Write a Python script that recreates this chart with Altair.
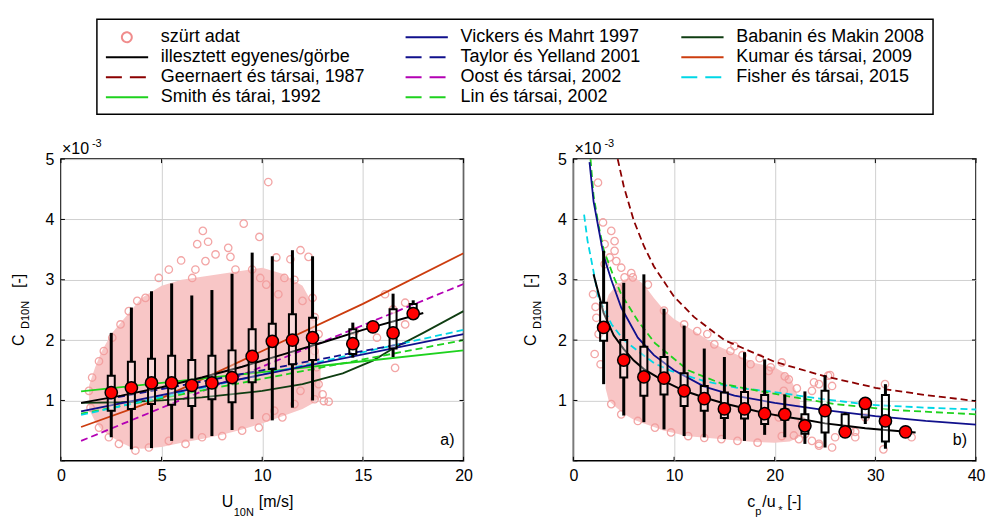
import altair as alt
import pandas as pd

FONT = "Liberation Sans"

# ---------------- panel a) : U10N ----------------
a_box_u   = [2.5, 3.5, 4.5, 5.5, 6.5, 7.5, 8.5, 9.5, 10.5, 11.5, 12.5, 14.5, 16.5, 17.5]
a_box_min = [0.39, 0.19, 0.21, 0.33, 0.37, 0.41, 0.51, 0.69, 0.67, 0.88, 1.00, 1.71, 1.72, 2.40]
a_box_q1  = [0.83, 0.86, 0.94, 0.93, 0.91, 1.02, 0.97, 1.30, 1.52, 1.60, 1.67, 1.77, 1.86, 2.46]
a_box_q3  = [1.41, 1.64, 1.69, 1.74, 1.67, 1.74, 1.83, 2.18, 2.27, 2.43, 2.37, 2.18, 2.51, 2.60]
a_box_max = [2.12, 2.54, 2.81, 2.94, 2.74, 2.83, 3.10, 3.45, 3.39, 3.49, 3.39, 2.29, 2.77, 2.66]

a_med_u = [2.5, 3.5, 4.5, 5.5, 6.5, 7.5, 8.5, 9.5, 10.5, 11.5, 12.5, 14.5, 15.5, 16.5, 17.5]
a_med_c = [1.13, 1.21, 1.29, 1.29, 1.25, 1.29, 1.38, 1.73, 1.98, 2.00, 2.04, 1.94, 2.22, 2.12, 2.44]

# dense part of the filtered data cloud (lower / upper edge)
a_cloud_u  = [1.4, 1.7, 2.0, 2.5, 3.0, 3.5, 4.0, 5.0, 6.0, 7.0, 8.0, 9.0, 10.0, 11.0, 12.0, 12.5, 12.9]
a_cloud_lo = [0.85, 0.65, 0.52, 0.40, 0.30, 0.22, 0.20, 0.23, 0.30, 0.36, 0.43, 0.52, 0.62, 0.74, 0.86, 0.95, 1.05]
a_cloud_hi = [1.25, 1.55, 1.80, 2.10, 2.30, 2.50, 2.70, 2.90, 3.00, 3.05, 3.10, 3.15, 3.20, 3.10, 2.90, 2.60, 1.60]

# individual filtered data points (edge / outliers)
a_pts_u = [9.08, 7.05, 6.77, 7.31, 5.97, 6.68, 7.68, 8.31, 8.42, 9.86, 10.3, 5.36, 4.86, 4.2, 6.52, 7.18,
           8.67, 9.5, 1.89, 1.55, 2.13, 2.55, 2.96, 3.37, 3.79, 1.39, 1.47, 1.89, 2.38, 2.88, 3.7, 4.37,
           5.36, 6.19, 7.01, 8.01, 9.0, 9.83, 11.9, 12.3, 11.4, 10.7, 9.9, 10.2, 11.1, 11.6, 10.8, 12.0,
           12.5, 16.1, 17.1, 16.5, 14.6, 16.6, 13.06, 12.6, 11.9, 10.6, 10.2, 11.0, 11.6, 12.8, 12.7, 12.6,
           12.8, 12.6, 17.1, 15.7, 13.3, 13.0]
a_pts_c = [3.93, 3.81, 3.59, 3.63, 3.32, 3.17, 3.42, 3.53, 3.38, 3.71, 4.62, 3.17, 3.03, 2.70, 3.03, 3.31,
           3.17, 3.17, 1.65, 1.38, 1.82, 2.04, 2.26, 2.48, 2.65, 1.16, 0.88, 0.55, 0.39, 0.28, 0.17, 0.22,
           0.33, 0.28, 0.39, 0.41, 0.50, 0.55, 3.49, 3.38, 3.34, 3.37, 3.03, 2.92, 3.03, 3.00, 2.76, 2.65,
           2.70, 2.76, 2.62, 2.51, 2.15, 1.54, 0.99, 1.02, 1.16, 0.83, 0.72, 0.72, 0.94, 1.27, 1.55, 1.82,
           2.10, 2.38, 2.26, 2.04, 0.98, 1.10]

a_fit_u = [1, 3, 5, 7, 9, 11, 13, 15, 18]
a_fit_c = [0.96, 1.08, 1.22, 1.38, 1.56, 1.76, 1.96, 2.17, 2.45]

a_smith_u = [1, 5, 10, 15, 20]
a_smith_c = [1.15, 1.29, 1.47, 1.65, 1.83]
a_vick_u = [1, 20]
a_vick_c = [0.82, 2.10]
a_taylor_u = [2.3, 5, 10, 15, 17.3]
a_taylor_c = [1.02, 1.19, 1.50, 1.82, 1.96]
a_oost_u = [1, 20]
a_oost_c = [0.33, 2.93]
a_lin_u = [1, 20]
a_lin_c = [0.78, 2.00]
a_fisher_u = [1, 20]
a_fisher_c = [0.76, 2.17]
a_bab_u = [1, 3, 5, 7, 9, 10, 12, 14, 15.5, 16.5, 18, 20]
a_bab_c = [0.96, 0.97, 1.00, 1.05, 1.12, 1.16, 1.27, 1.45, 1.66, 1.86, 2.12, 2.48]
a_kumar_u = [1, 5, 10, 15, 20]
a_kumar_c = [0.56, 1.04, 1.82, 2.60, 3.44]

# ---------------- panel b) : cp/u* ----------------
b_box_c   = [3, 5, 7, 9, 11, 13, 15, 17, 19, 21, 23, 25, 27, 29, 31]
b_box_min = [1.27, 0.75, 0.64, 0.52, 0.41, 0.39, 0.36, 0.33, 0.43, 0.39, 0.28, 0.22, 0.45, 0.61, 0.20]
b_box_q1  = [1.99, 1.38, 1.08, 1.10, 0.91, 0.83, 0.71, 0.70, 0.61, 0.68, 0.45, 0.47, 0.48, 0.72, 0.32]
b_box_q3  = [2.62, 2.00, 1.89, 1.72, 1.45, 1.24, 1.13, 1.14, 1.09, 0.85, 0.77, 1.16, 0.77, 0.90, 1.09]
b_box_max = [3.48, 2.95, 3.09, 2.52, 2.24, 1.86, 1.72, 1.80, 1.68, 1.10, 1.15, 1.42, 0.80, 0.98, 1.27]

b_med_c = [3, 5, 7, 9, 11, 13, 15, 17, 19, 21, 23, 25, 27, 29, 31, 33]
b_med_v = [2.21, 1.67, 1.39, 1.37, 1.16, 1.03, 0.86, 0.86, 0.78, 0.77, 0.58, 0.83, 0.48, 0.95, 0.66, 0.48]

b_cloud_c  = [3.2, 3.5, 4.0, 5.0, 6.0, 7.0, 8.0, 9.0, 10.0, 11.0, 12.0, 14.0, 16.0, 18.0, 20.0, 21.5, 22.5]
b_cloud_lo = [1.20, 1.00, 0.92, 0.78, 0.68, 0.62, 0.56, 0.50, 0.46, 0.42, 0.40, 0.37, 0.34, 0.31, 0.30, 0.32, 0.40]
b_cloud_hi = [2.60, 2.75, 2.85, 3.00, 3.05, 2.92, 2.70, 2.50, 2.35, 2.25, 2.15, 1.93, 1.78, 1.62, 1.55, 1.40, 1.00]

b_pts_c = [2.44, 2.94, 3.76, 4.09, 3.1, 3.6, 4.26, 4.75, 5.08, 1.95, 2.28, 2.11, 5.9, 3.1, 4.09, 4.42,
           2.5, 2.2, 2.7, 20.7, 19.4, 21.4, 20.9, 25.5, 25.7, 24.4, 30.96, 22.7, 23.7, 24.4, 26.0, 27.5,
           28.0, 29.0, 30.8, 33.6, 20.4, 21.9, 23.0, 28.0, 23.7, 23.9, 25.3, 5.75, 7.4, 9.0, 11.0, 12.3,
           14.0, 15.6, 17.6, 19.6, 13.3, 16.8, 18.5, 21.0, 22.2, 16.0, 3.76, 4.75, 6.4, 8.1, 9.7, 11.4,
           13.0, 14.7, 16.3, 18.3, 20.7, 22.4, 24.4, 25.7]
b_pts_v = [4.61, 3.95, 3.81, 3.64, 3.59, 3.37, 3.31, 3.20, 3.04, 2.76, 2.37, 1.77, 3.04, 3.26, 3.48, 2.87,
           2.10, 2.55, 1.60, 1.63, 1.49, 1.35, 1.16, 1.42, 1.24, 1.27, 1.27, 0.66, 0.33, 0.28, 0.39, 0.50,
           0.39, 0.72, 0.19, 0.39, 0.72, 0.42, 0.44, 0.48, 1.16, 1.30, 1.41, 3.11, 2.92, 2.49, 2.26, 2.15,
           1.93, 1.82, 1.60, 1.55, 2.10, 1.75, 1.70, 1.40, 1.20, 1.90, 0.94, 0.77, 0.66, 0.55, 0.47, 0.41,
           0.38, 0.36, 0.33, 0.30, 0.41, 0.36, 0.25, 0.22]

b_fit_c = [2, 3, 4, 5, 6, 7, 9, 11, 13, 15, 17, 19, 21, 23, 25, 27, 29, 31, 34]
b_fit_v = [3.09, 2.45, 2.08, 1.85, 1.66, 1.52, 1.32, 1.16, 1.05, 0.95, 0.87, 0.79, 0.73, 0.68, 0.62, 0.58, 0.54, 0.51, 0.47]

b_geer_c = [4.4, 5, 6, 7, 8, 10, 12, 15, 20, 25, 30, 35, 40]
b_geer_v = [5.0, 4.55, 3.98, 3.56, 3.22, 2.72, 2.38, 2.00, 1.64, 1.40, 1.21, 1.09, 0.99]
b_vick_c = [1.6, 2, 2.5, 3, 3.76, 4.75, 6.4, 8, 10, 13, 16, 20, 25, 30, 35, 40]
b_vick_v = [4.95, 4.30, 3.85, 3.40, 3.00, 2.54, 2.04, 1.75, 1.50, 1.23, 1.08, 0.96, 0.84, 0.74, 0.66, 0.60]
b_lin_c = [1.7, 2, 2.5, 3, 4, 4.75, 6.4, 8.1, 11.4, 14.7, 18, 22, 26, 32, 40]
b_lin_v = [5.0, 4.4, 3.9, 3.5, 3.05, 2.76, 2.32, 1.95, 1.50, 1.28, 1.17, 1.05, 0.94, 0.84, 0.77]
b_fisher_c = [1.06, 1.4, 1.8, 2.5, 3.8, 5, 6.4, 8, 9.7, 13, 16.3, 19.5, 24, 29.3, 35, 40]
b_fisher_v = [4.08, 3.65, 3.31, 2.70, 2.26, 2.00, 1.82, 1.62, 1.49, 1.32, 1.21, 1.15, 1.04, 0.93, 0.88, 0.85]

# ---------------- legend (filled column by column) ----------------
legend_names = ["szürt adat", "illesztett  egyenes/görbe", "Geernaert és társai, 1987",
                "Smith és tárai, 1992", "Vickers és Mahrt 1997", "Taylor és Yelland 2001",
                "Oost és társai, 2002", "Lin és társai, 2002", "Babanin és Makin 2008",
                "Kumar és társai, 2009", "Fisher és társai, 2015"]
legend_colors = ["#f08c8c", "#000000", "#8b0000", "#1ed21e", "#10108c", "#10108c",
                 "#b400b4", "#1ed21e", "#0f3d12", "#cc3d0f", "#00d7e6"]
legend_dashed = [False, False, True, False, False, True, True, True, False, False, True]

C_GEER, C_SMITH, C_VICK, C_TAYLOR = "#8b0000", "#1ed21e", "#10108c", "#10108c"
C_OOST, C_LIN, C_BAB, C_KUMAR, C_FISHER = "#b400b4", "#1ed21e", "#0f3d12", "#cc3d0f", "#00d7e6"

y_ticks = [0, 1, 2, 3, 4, 5]

W, H = 403, 302
CIRCLE_PATH = "M 0.78,0 A 0.55,0.55 0 1,0 1.88,0 A 0.55,0.55 0 1,0 0.78,0 Z"
LINE_PATH = "M -1,0 L 3.7,0"

axis_y = alt.Axis(values=[1, 2, 3, 4, 5], title=None, grid=True)


def txt(text, x, y, size=16, align="left", angle=0):
    return alt.Chart(pd.DataFrame({"t": [text]})).mark_text(
        text=text, font=FONT, fontSize=size, align=align, baseline="alphabetic",
        angle=angle, color="black"
    ).encode(x=alt.value(x), y=alt.value(y))


def panel(xdom, xticks, box, med, cloud, pts, fit, curves, tag, xtitle):
    xs = alt.Scale(domain=xdom, nice=False, zero=False, padding=0)
    ys = alt.Scale(domain=[0, 5], nice=False, zero=False, padding=0)
    ax = alt.Axis(values=xticks, title=None, grid=True, labelFlush=False, labelOverlap=False)

    def X(f):
        return alt.X(f, type="quantitative", scale=xs, axis=ax)

    def Y(f):
        return alt.Y(f, type="quantitative", scale=ys, axis=axis_y)

    cu, clo, chi = cloud
    cloud_df = pd.DataFrame({"x": cu, "lo": clo, "hi": chi})
    layers = [alt.Chart(cloud_df).mark_area(color="#f8c6c6", opacity=1, clip=True).encode(
        x=X("x"), y=Y("lo"), y2="hi")]
    pts_df = pd.DataFrame({"x": pts[0], "y": pts[1]})
    layers.append(alt.Chart(pts_df).mark_point(
        shape="circle", filled=False, size=55, stroke="#f29c9c", strokeWidth=1.3, opacity=0.9,
        clip=True).encode(x=X("x"), y=Y("y")))
    for xv, yv, col, dashed in curves:
        df = pd.DataFrame({"x": xv, "y": yv})
        kw = dict(color=col, strokeWidth=1.8, clip=True)
        if dashed:
            kw["strokeDash"] = [7, 4]
        layers.append(alt.Chart(df).mark_line(**kw).encode(x=X("x"), y=Y("y")))
    fit_df = pd.DataFrame({"x": fit[0], "y": fit[1]})
    layers.append(alt.Chart(fit_df).mark_line(color="black", strokeWidth=2, clip=True).encode(
        x=X("x"), y=Y("y")))
    bx, bmin, bq1, bq3, bmax = box
    box_df = pd.DataFrame({"x": bx, "mn": bmin, "q1": bq1, "q3": bq3, "mx": bmax})
    layers.append(alt.Chart(box_df).mark_rule(color="black", strokeWidth=3).encode(
        x=X("x"), y=Y("mn"), y2="q1"))
    layers.append(alt.Chart(box_df).mark_rule(color="black", strokeWidth=3).encode(
        x=X("x"), y=Y("q3"), y2="mx"))
    layers.append(alt.Chart(box_df).mark_bar(
        size=7, fill="white", fillOpacity=0.35, stroke="black", strokeWidth=2).encode(
        x=X("x"), y=Y("q1"), y2="q3"))
    med_df = pd.DataFrame({"x": med[0], "y": med[1]})
    layers.append(alt.Chart(med_df).mark_point(
        shape="circle", filled=True, size=150, fill="#ff0000", stroke="black", strokeWidth=1.5,
        opacity=1).encode(x=X("x"), y=Y("y")))
    # inward tick marks on all four sides of the box
    xt_df = pd.DataFrame({"v": xticks})
    yt_df = pd.DataFrame({"v": y_ticks})
    layers.append(alt.Chart(xt_df).mark_rule(color="black", strokeWidth=1).encode(
        x=X("v"), y=alt.value(H - 4), y2=alt.value(H)))
    layers.append(alt.Chart(xt_df).mark_rule(color="black", strokeWidth=1).encode(
        x=X("v"), y=alt.value(0), y2=alt.value(4)))
    layers.append(alt.Chart(yt_df).mark_rule(color="black", strokeWidth=1).encode(
        y=Y("v"), x=alt.value(0), x2=alt.value(4)))
    layers.append(alt.Chart(yt_df).mark_rule(color="black", strokeWidth=1).encode(
        y=Y("v"), x=alt.value(W - 4), x2=alt.value(W)))
    # exponent label and panel tag
    layers.append(txt("×10", 1, -5))
    layers.append(txt("-3", 31, -12, size=11))
    layers.append(txt(tag, 394, 286, align="right"))
    # y title  C_D10N [-]
    layers.append(txt("C", -37, 187, angle=270))
    layers.append(txt("D10N", -32, 170, size=11, angle=270))
    layers.append(txt("[-]", -37, 129, angle=270))
    for piece in xtitle:
        layers.append(txt(*piece))
    return layers


left_layers = panel(
    [0, 20], [0, 5, 10, 15, 20],
    (a_box_u, a_box_min, a_box_q1, a_box_q3, a_box_max),
    (a_med_u, a_med_c),
    (a_cloud_u, a_cloud_lo, a_cloud_hi),
    (a_pts_u, a_pts_c),
    (a_fit_u, a_fit_c),
    [(a_kumar_u, a_kumar_c, C_KUMAR, False),
     (a_oost_u, a_oost_c, C_OOST, True),
     (a_bab_u, a_bab_c, C_BAB, False),
     (a_smith_u, a_smith_c, C_SMITH, False),
     (a_lin_u, a_lin_c, C_LIN, True),
     (a_fisher_u, a_fisher_c, C_FISHER, True),
     (a_vick_u, a_vick_c, C_VICK, False),
     (a_taylor_u, a_taylor_c, C_TAYLOR, True)],
    "a)",
    [("U", 161, 348), ("10N", 173, 357, 11), ("[m/s]", 198, 348)],
)

right_layers = panel(
    [0, 40], [0, 10, 20, 30, 40],
    (b_box_c, b_box_min, b_box_q1, b_box_q3, b_box_max),
    (b_med_c, b_med_v),
    (b_cloud_c, b_cloud_lo, b_cloud_hi),
    (b_pts_c, b_pts_v),
    (b_fit_c, b_fit_v),
    [(b_geer_c, b_geer_v, C_GEER, True),
     (b_fisher_c, b_fisher_v, C_FISHER, True),
     (b_lin_c, b_lin_v, C_LIN, True),
     (b_vick_c, b_vick_v, C_VICK, False)],
    "b)",
    [("c", 174, 348), ("p", 182, 356, 11), ("/u", 189, 348), ("*", 205, 355, 11), ("[-]", 214, 348)],
)

# legend carrier (points drawn outside the clipped plot area)
leg = alt.Legend(
    orient="none", legendX=36, legendY=-140, columns=3, title=None,
    labelFont=FONT, labelFontSize=18, labelLimit=400, labelOffset=36, labelColor="black",
    symbolSize=324, symbolStrokeWidth=2, strokeColor="black", padding=8,
    rowPadding=1, columnPadding=36, fillColor="white",
)
legend_df = pd.DataFrame({"series": legend_names})
legend_layer = alt.Chart(legend_df).mark_point(filled=False, clip=True, strokeWidth=2, opacity=1).encode(
    x=alt.value(-200), y=alt.value(-200),
    color=alt.Color("series:N", scale=alt.Scale(domain=legend_names, range=legend_colors), legend=leg),
    shape=alt.Shape("series:N", scale=alt.Scale(
        domain=legend_names,
        range=[CIRCLE_PATH if i == 0 else LINE_PATH for i in range(len(legend_names))]), legend=leg),
    strokeDash=alt.StrokeDash("series:N", scale=alt.Scale(
        domain=legend_names,
        range=[[16, 8] if d else [1, 0] for d in legend_dashed]), legend=leg),
)

left = alt.layer(*left_layers, legend_layer).properties(width=W, height=H)
right = alt.layer(*right_layers).properties(width=W, height=H)

chart = alt.hconcat(left, right, spacing=49).properties(
    padding={"left": 10, "top": 18, "right": 0, "bottom": 0},
    background="white",
).configure_view(stroke="black", strokeWidth=1.5).configure_axis(
    domain=False, ticks=False, gridColor="#d0d0d0", gridWidth=1, labelFont=FONT,
    labelFontSize=16, labelColor="black", labelPadding=7,
).configure_legend(strokeWidth=1.5)

chart.save("out.html", embed_options={"renderer": "svg", "actions": False})
